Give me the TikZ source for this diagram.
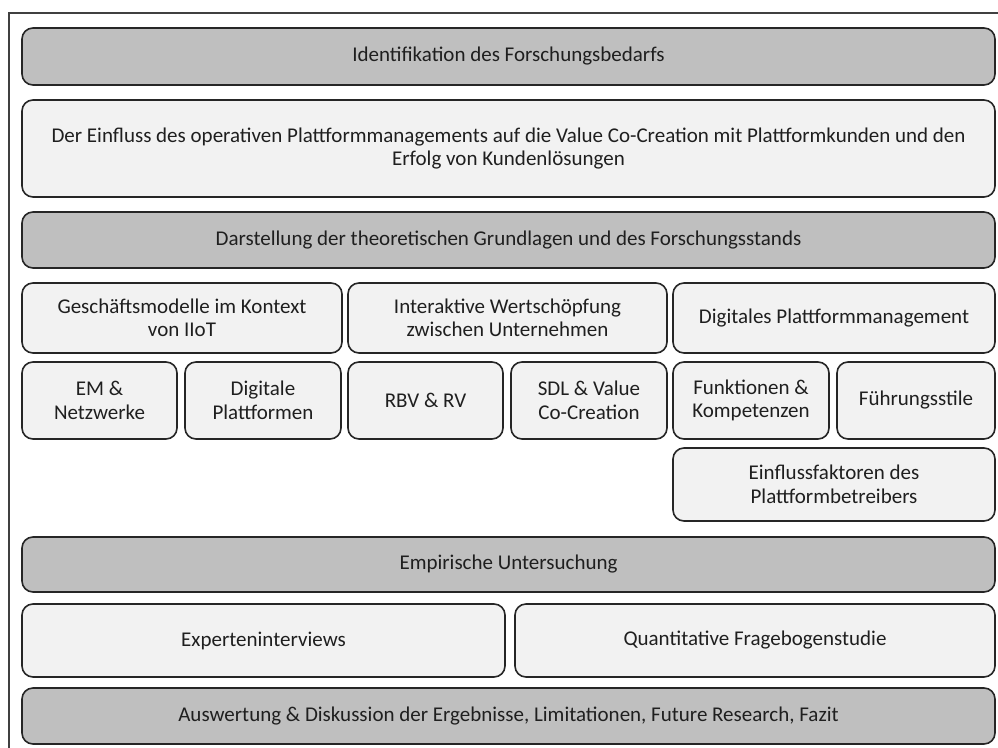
\documentclass[tikz,border=0pt]{standalone}
\usepackage{fontspec}
\setmainfont{Carlito}
\begin{document}
\begin{tikzpicture}[x=1pt,y=-1pt,
  box/.style={draw=black!85, line width=1.6pt, rounded corners=11pt,
    align=center, inner sep=2pt, text=black!88,
    font=\fontsize{21}{23.5}\selectfont},
  headbox/.style={box, fill=black!25},
  subbox/.style={box, fill=black!5},
  frame/.style={draw=black!75, line width=2pt}]
  \useasboundingbox (0,0) rectangle (998,747);
  \clip (0,0) rectangle (998,747);
  % outer frame
  \draw[frame] (9,13) rectangle (1012,760);

  % phase headers and sub-topics
  \node[headbox, minimum width=973pt, minimum height=57pt] (ident) at (508.5,56.5)
    {Identifikation des Forschungsbedarfs};
  \node[subbox, minimum width=973pt, minimum height=97pt] (einfl) at (508.5,148.5)
    {Der Einfluss des operativen Plattformmanagements auf die Value Co-Creation mit Plattformkunden und den\\Erfolg von Kundenlösungen};
  \node[headbox, minimum width=973pt, minimum height=56pt] (darst) at (508.5,240)
    {Darstellung der theoretischen Grundlagen und des Forschungsstands};

  \node[subbox, minimum width=320pt, minimum height=70pt] (gesch) at (182,318)
    {Geschäftsmodelle im Kontext\\von IIoT};
  \node[subbox, minimum width=319pt, minimum height=70pt] (inter) at (507.5,318)
    {Interaktive Wertschöpfung\\zwischen Unternehmen};
  \node[subbox, minimum width=322pt, minimum height=70pt] (digpm) at (834,318)
    {Digitales Plattformmanagement};

  \node[subbox, minimum width=155pt, minimum height=77pt] (em) at (99.5,400.5)
    {EM \&\\Netzwerke};
  \node[subbox, minimum width=156pt, minimum height=77pt] (digpl) at (263,400.5)
    {Digitale\\Plattformen};
  \node[subbox, minimum width=155pt, minimum height=77pt] (rbv) at (425.5,400.5)
    {RBV \& RV};
  \node[subbox, minimum width=156pt, minimum height=77pt] (sdl) at (589,400.5)
    {SDL \& Value\\Co-Creation};
  \node[subbox, minimum width=156pt, minimum height=77pt] (funk) at (751,400.5)
    {Funktionen \&\\Kompetenzen};
  \node[subbox, minimum width=158pt, minimum height=77pt] (fuehr) at (916,400.5)
    {Führungsstile};
  \node[subbox, minimum width=322pt, minimum height=73pt] (einfak) at (834,484.5)
    {Einflussfaktoren des\\Plattformbetreibers};

  \node[headbox, minimum width=973pt, minimum height=55pt] (empir) at (508.5,564.5)
    {Empirische Untersuchung};
  \node[subbox, minimum width=483pt, minimum height=73pt] (exp) at (263.5,640.5)
    {Experteninterviews};
  \node[subbox, minimum width=480pt, minimum height=73pt] (quant) at (755,640.5)
    {Quantitative Fragebogenstudie};
  \node[headbox, minimum width=973pt, minimum height=56pt] (ausw) at (508.5,716)
    {Auswertung \& Diskussion der Ergebnisse, Limitationen, Future Research, Fazit};
\end{tikzpicture}
\end{document}
